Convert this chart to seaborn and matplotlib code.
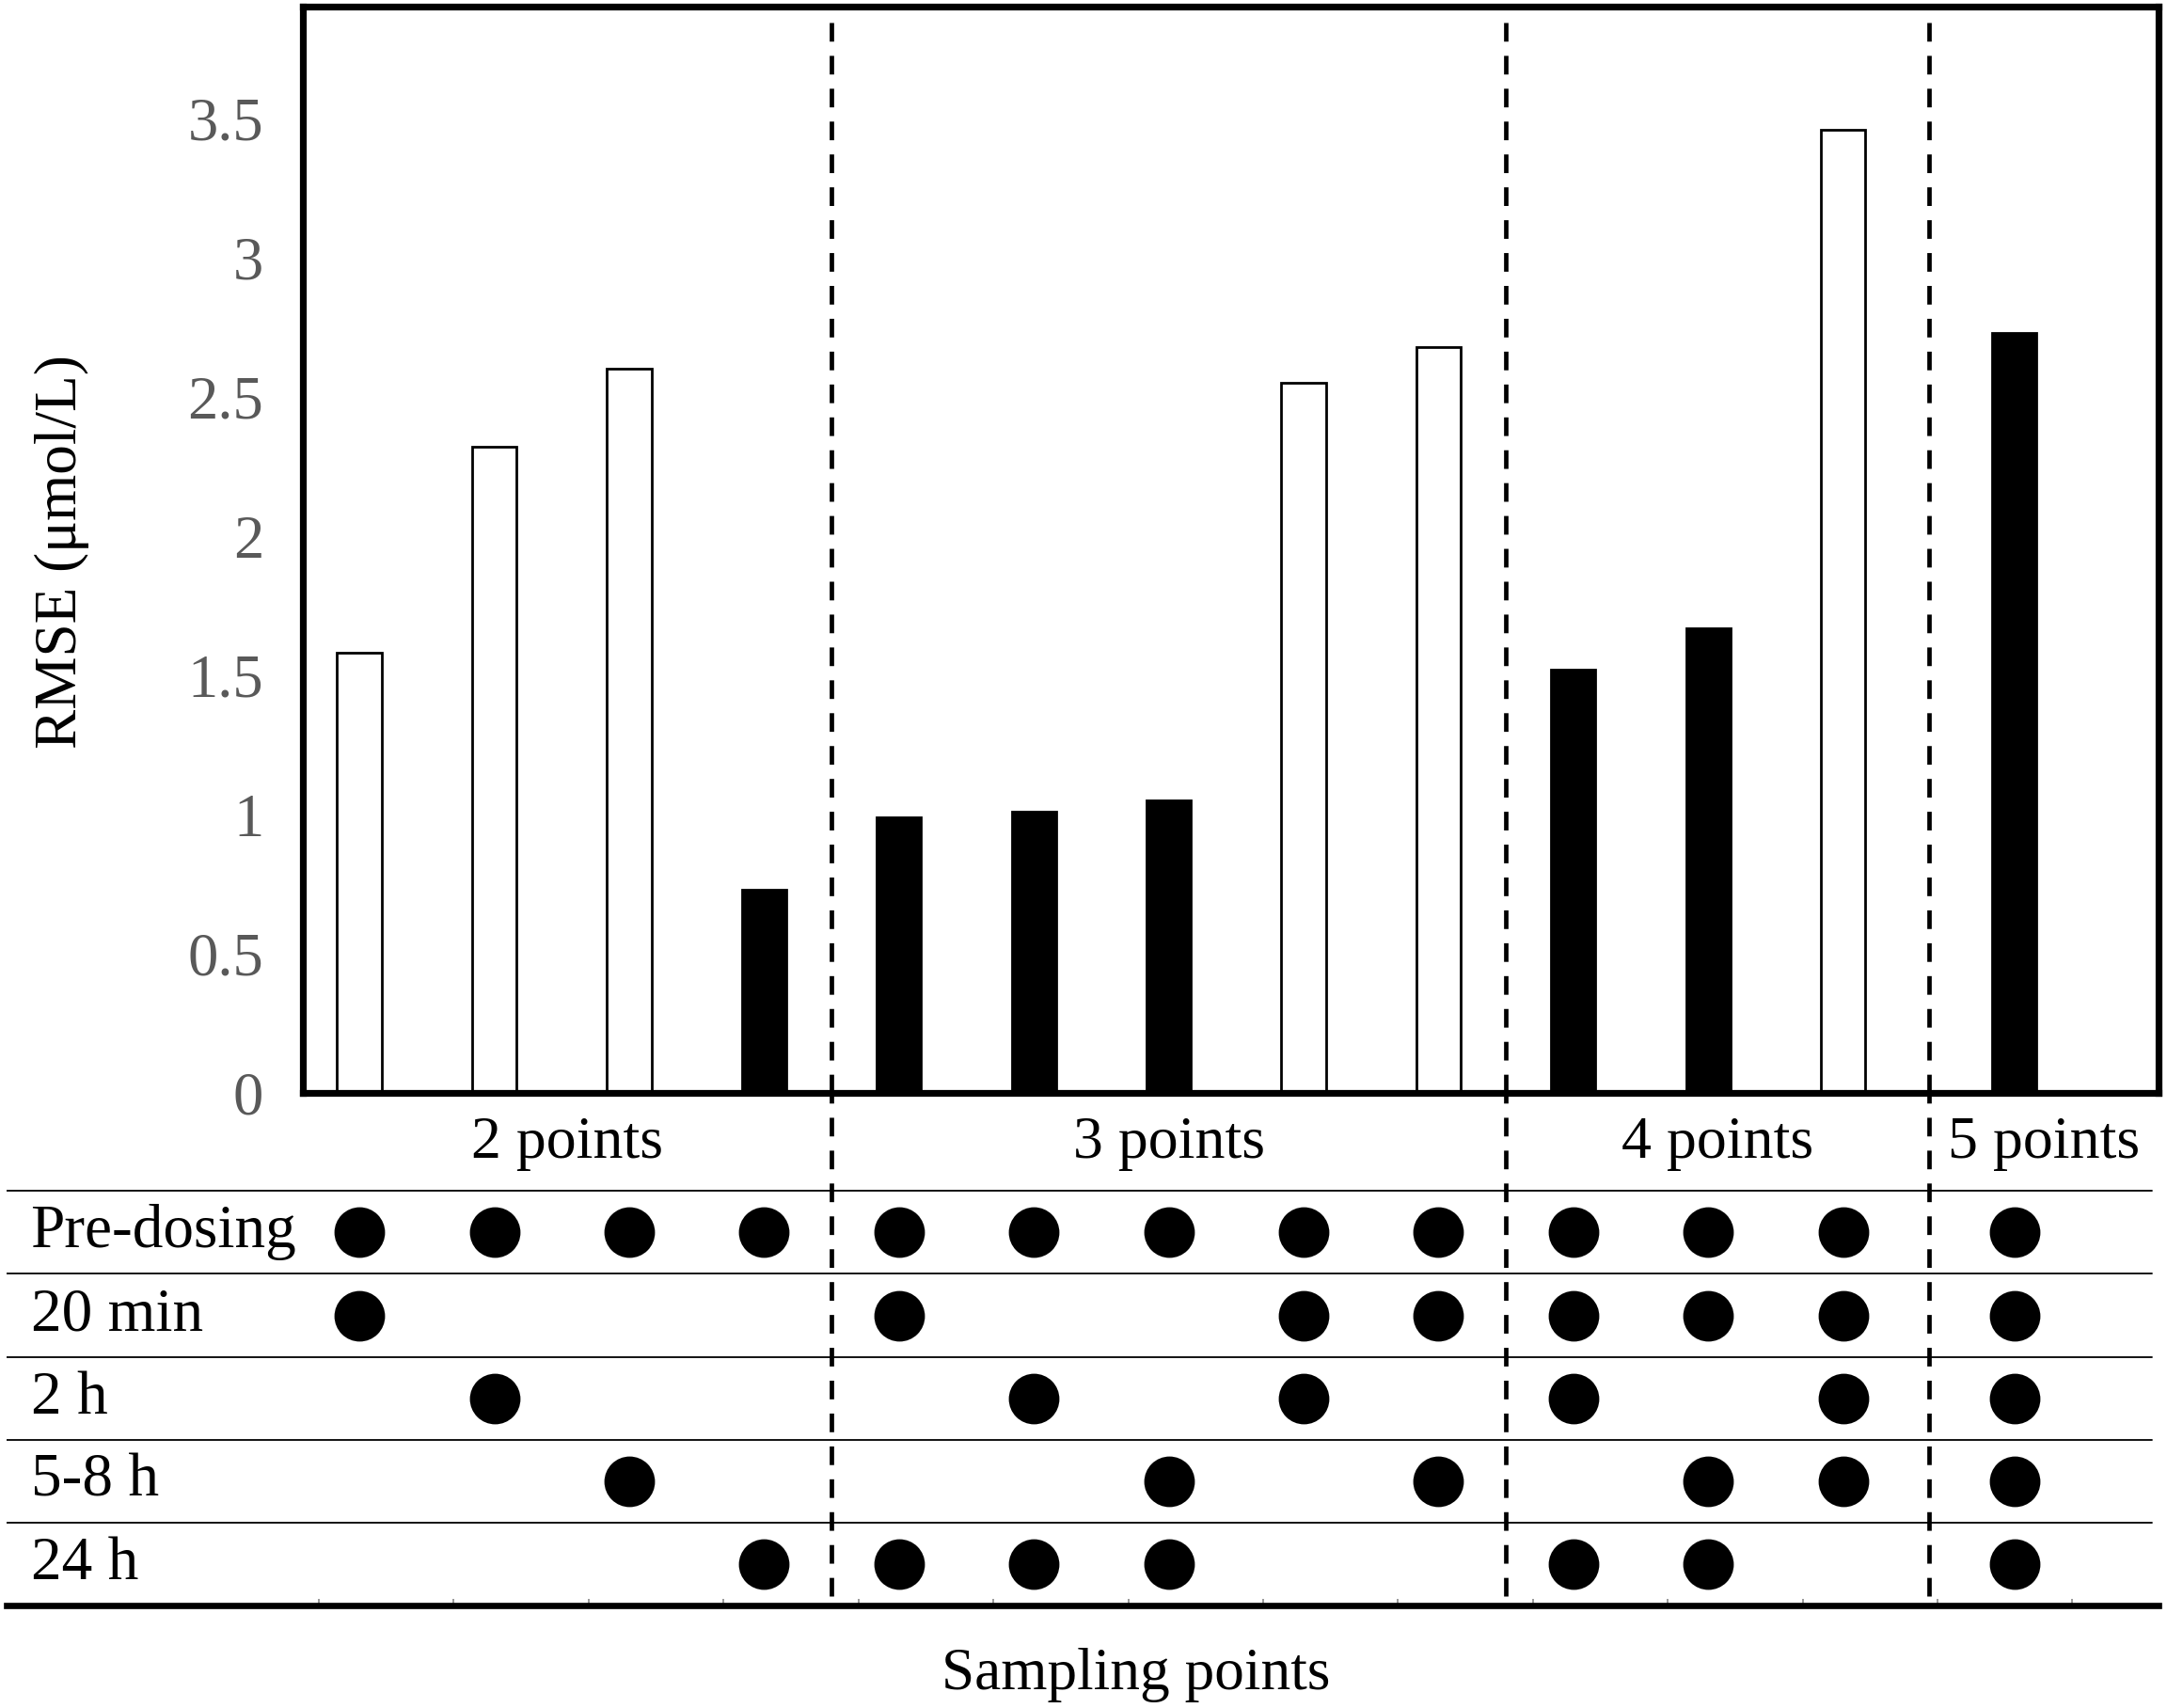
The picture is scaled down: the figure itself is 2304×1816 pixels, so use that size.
import numpy as np
import pandas as pd
import matplotlib.pyplot as plt
from matplotlib.ticker import FuncFormatter
import seaborn as sns

# RMSE per sampling scheme, left to right
rmse = [1.58, 2.32, 2.60, 0.73, 0.99, 1.01, 1.05, 2.55, 2.68, 1.52, 1.67, 3.46, 2.73]
filled = [False, False, False, True, True, True, True, False, False, True, True, False, True]

group_names = ["2 points", "3 points", "4 points", "5 points"]
group_sizes = [4, 5, 3, 1]

row_names = ["Pre-dosing", "20 min", "2 h", "5-8 h", "24 h"]
schemes = [
    ["Pre-dosing", "20 min"],
    ["Pre-dosing", "2 h"],
    ["Pre-dosing", "5-8 h"],
    ["Pre-dosing", "24 h"],
    ["Pre-dosing", "20 min", "24 h"],
    ["Pre-dosing", "2 h", "24 h"],
    ["Pre-dosing", "5-8 h", "24 h"],
    ["Pre-dosing", "20 min", "2 h"],
    ["Pre-dosing", "20 min", "5-8 h"],
    ["Pre-dosing", "20 min", "2 h", "24 h"],
    ["Pre-dosing", "20 min", "5-8 h", "24 h"],
    ["Pre-dosing", "20 min", "2 h", "5-8 h"],
    ["Pre-dosing", "20 min", "2 h", "5-8 h", "24 h"],
]

sns.set_theme(style="white")
plt.rcParams["font.family"] = ["Liberation Serif", "DejaVu Serif"]

# slot positions, the single 5-point scheme sits a bit further right
last_gap = 0.27
pos = []
k = 0
for g, n in enumerate(group_sizes):
    for j in range(n):
        pos.append(k + (last_gap if g == len(group_sizes) - 1 else 0))
        k += 1

bars = pd.DataFrame({
    "pos": pos,
    "rmse": rmse,
    "kind": ["filled" if f else "open" for f in filled],
})

dots = pd.DataFrame(
    [(pos[i], len(row_names) - 0.5 - row_names.index(r)) for i, s in enumerate(schemes) for r in s],
    columns=["pos", "row_y"],
)

fig = plt.figure(figsize=(23.04, 18.16), dpi=100)
ax = fig.add_axes([0.1397, 0.360, 0.8565, 0.636])
tab = fig.add_axes([0.0032, 0.0599, 0.9930, 0.3001])

sns.barplot(
    data=bars, x="pos", y="rmse", hue="kind",
    palette={"open": "white", "filled": "black"},
    native_scale=True, width=0.33, edgecolor="black", linewidth=2,
    errorbar=None, legend=False, ax=ax,
)

xlim = (-0.42, 13.34)
ax.set_xlim(*xlim)
ax.set_ylim(0, 3.9)
ax.set_xticks([])
ax.set_xlabel("")
ax.set_ylabel("")
ax.set_yticks(np.arange(0, 3.6, 0.5))
ax.yaxis.set_major_formatter(FuncFormatter(lambda v, p: f"{v:g}"))
ax.tick_params(axis="y", length=0, pad=30, labelsize=46.5, labelcolor="#595959")
for s in ax.spines.values():
    s.set_visible(True)
    s.set_color("black")
    s.set_linewidth(5.2)

# table x range lined up with the bar axes
scale = (xlim[1] - xlim[0]) / 0.8565
tab.set_xlim(xlim[0] - (0.1397 - 0.0032) * scale, xlim[1])
tab.set_ylim(0, 6.18)

sns.scatterplot(data=dots, x="pos", y="row_y", color="black", s=1500,
                linewidth=0, legend=False, ax=tab)
tab.set_xlabel("")
tab.set_ylabel("")
tab.set_yticks([])
tab.set_xticks([])
tab.set_xticks(np.arange(14) - 0.3, minor=True)
tab.tick_params(axis="x", which="minor", direction="in", length=5, width=1.2,
                bottom=True, color="#888888")
for side in ["top", "left", "right"]:
    tab.spines[side].set_visible(False)
tab.spines["bottom"].set_color("black")
tab.spines["bottom"].set_linewidth(4.8)
tab.patch.set_alpha(0)

for y in range(1, len(row_names) + 1):
    tab.axhline(y, xmin=0, xmax=0.997, color="black", lw=1.3)

yax = tab.get_yaxis_transform()
for i, name in enumerate(row_names):
    tab.text(0.011, len(row_names) - 0.5 - i, name, transform=yax,
             ha="left", va="center", fontsize=47, color="black")

# group separators and labels
ends = np.cumsum(group_sizes)
bounds = [(pos[e - 1] + pos[e]) / 2 for e in ends[:-1]]
dash = (0, (4.2, 3.2))
for b in bounds:
    ax.axvline(b, color="black", lw=3.4, ls=dash)
    tab.vlines(b, 0.12, 6.18, color="black", lw=3.4, ls=dash)

edges = [xlim[0]] + bounds + [xlim[1]]
for g, name in enumerate(group_names):
    tab.text((edges[g] + edges[g + 1]) / 2, 5.57, name, ha="center", va="center",
             fontsize=46, color="black")

fig.text(0.0287, 0.677, "RMSE (μmol/L)", rotation=90, ha="center", va="center",
         fontsize=45.5, color="black")
fig.text(0.524, 0.0194, "Sampling points", ha="center", va="center",
         fontsize=45.5, color="black")

fig.savefig("out.png", dpi=100)
